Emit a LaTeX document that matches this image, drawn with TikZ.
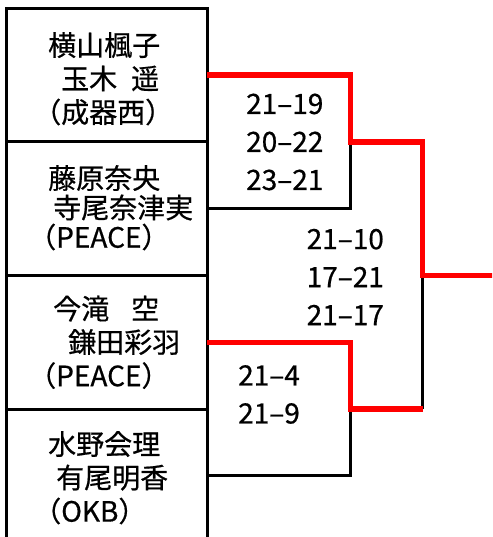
\documentclass[tikz,border=0pt]{standalone}
\usepackage{fontspec}
\setmainfont{Noto Sans CJK JP}[FakeBold=0.6]
\usetikzlibrary{positioning}
\usetikzlibrary{calc}

\begin{document}
\begin{tikzpicture}[x=1pt, y=-1pt,
  pair/.style={draw, line width=3pt, minimum width=200.5pt, minimum height=133.5pt, inner sep=0pt, outer sep=0pt, anchor=north west},
  names/.style={align=left, inner sep=0pt, anchor=west, font=\fontsize{28}{33.5}\selectfont},
  score/.style={align=left, inner sep=0pt, anchor=west, font=\fontsize{28}{38}\selectfont},
  lose/.style={line width=3pt},
  win/.style={line width=5.5pt, red}]

\pgfmathsetmacro{\RX}{143.5}
\pgfmathsetmacro{\FX}{72}
\pgfmathsetmacro{\TX}{21.5}

\clip (0, 0) rectangle (492, 537);

\node [pair] (p1) at (6.5, 8.5) {};
\node [pair, below=0pt of p1] (p2) {};
\node [pair, below=0pt of p2] (p3) {};
\node [pair, below=0pt of p3] (p4) {};

\node [names] (t1) at ($(p1.west) + (\TX, 3.5)$)
  {\hspace*{20pt}横山楓子\\\hspace*{33pt}玉木\hspace{14pt}遥\\\hspace*{5pt}（成器西）};
\node [names, font=\fontsize{28}{29.5}\selectfont] (t2) at ($(p2.west) + (\TX, -1)$)
  {\hspace*{20pt}藤原奈央\\\hspace*{25pt}寺尾奈津実\\（PEACE）};
\node [names] (t3) at ($(p3.west) + (\TX, 0)$)
  {\hspace*{25pt}今滝\hspace{22pt}空\\\hspace*{40pt}鎌田彩羽\\（PEACE）};
\node [names] (t4) at ($(p4.west) + (\TX, 2)$)
  {\hspace*{20pt}水野会理\\\hspace*{28pt}有尾明香\\\hspace*{5pt}（OKB）};

% match points
\coordinate (m1) at ($(p1.east)!0.5!(p2.east) + (\RX, 0)$);
\coordinate (m2) at ($(p3.east)!0.5!(p4.east) + (\RX, 0)$);
\coordinate (f) at ($(m1)!0.5!(m2) + (\FX, 0)$);
\coordinate (champ) at ($(f) + (\FX, 0)$);

\node [score] (s1) at ($(m1) + (-104.5, 0)$) {21–19\\20–22\\23–21};
\node [score] (s2) at ($(f) + (-116, 1.5)$) {21–10\\17–21\\21–17};
\node [score] (s3) at ($(m2) + (-112.5, -14.5)$) {21–4\\21–9};

\draw [lose] (p2.east) -- (p2.east -| m1) -- (m1);
\draw [lose] (p4.east) -- (p4.east -| m2) -- (m2);
\draw [lose] (m2 -| f) -- (f);

\draw [win] (p1.east) -- (p1.east -| m1) -- (m1) -- (m1 -| f) -- (f) -- (champ);
\draw [win] (p3.east) -- (p3.east -| m2) -- (m2) -- (m2 -| f);

\end{tikzpicture}
\end{document}
